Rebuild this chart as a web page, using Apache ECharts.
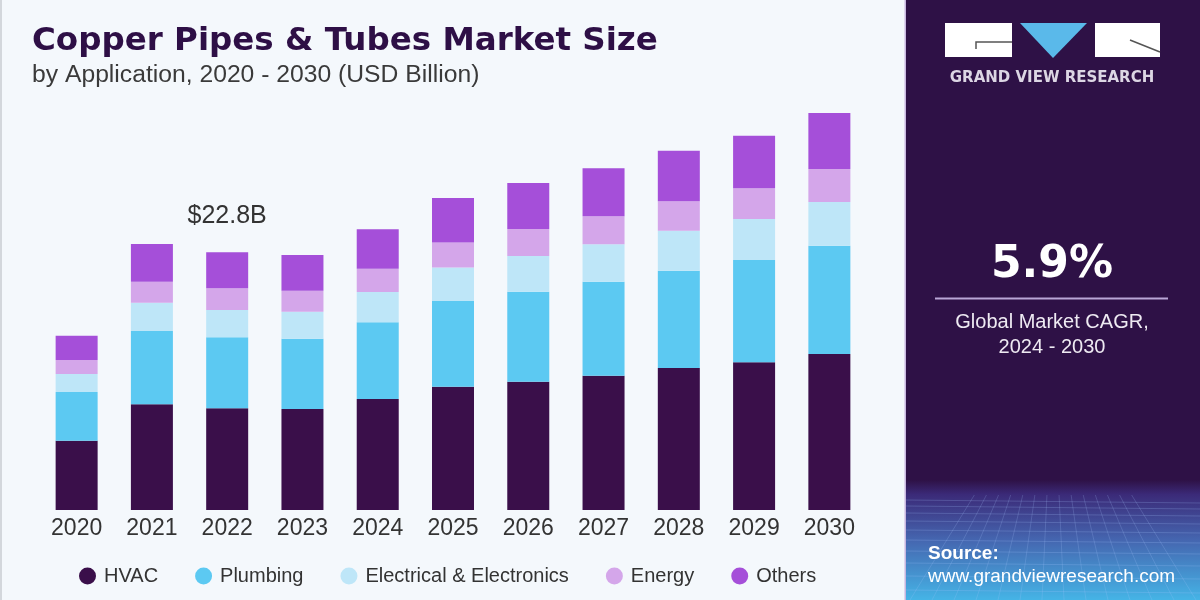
<!DOCTYPE html>
<html>
<head>
<meta charset="utf-8">
<script src="https://cdn.jsdelivr.net/npm/echarts@6/dist/echarts.min.js"></script>
<style>
  html, body { margin: 0; padding: 0; background: #f4f8fc; }
  #chart { width: 1200px; height: 600px; }
</style>
</head>
<body>
<div id="chart"></div>
<script>
const years = ['2020', '2021', '2022', '2023', '2024', '2025', '2026', '2027', '2028', '2029', '2030'];
const hvac = [6.13, 9.35, 9.00, 8.94, 9.82, 10.91, 11.35, 11.88, 12.57, 13.07, 13.81];
const plumbing = [4.31, 6.49, 6.28, 6.22, 6.79, 7.58, 7.96, 8.32, 8.61, 9.05, 9.58];
const electrical = [1.59, 2.50, 2.42, 2.39, 2.68, 2.98, 3.16, 3.31, 3.54, 3.63, 3.87];
const energy = [1.24, 1.86, 1.92, 1.86, 2.06, 2.21, 2.39, 2.48, 2.60, 2.72, 2.92];
const others = [2.15, 3.34, 3.19, 3.16, 3.49, 3.92, 4.07, 4.25, 4.48, 4.65, 4.96];
const seriesNames = ['HVAC', 'Plumbing', 'Electrical & Electronics', 'Energy', 'Others'];
const colors = ['#3a0f4a', '#5cc9f2', '#bee6f8', '#d4a6ea', '#a54fd9'];
const labelIndex = 2; // 2022 total shown

const chart = echarts.init(document.getElementById('chart'));

const allData = [hvac, plumbing, electrical, energy, others];
const total = (i) => allData.reduce((s, arr) => s + arr[i], 0);

const series = allData.map((arr, k) => ({
  name: seriesNames[k],
  type: 'bar',
  stack: 'total',
  barWidth: 42,
  itemStyle: { color: colors[k] },
  data: arr.map((v, i) => {
    if (k === allData.length - 1 && i === labelIndex) {
      return {
        value: v,
        label: {
          show: true,
          position: 'top',
          distance: 24,
          formatter: () => '$' + total(i).toFixed(1) + 'B',
          fontFamily: 'Liberation Sans, Arial, sans-serif',
          fontSize: 25,
          color: '#333'
        }
      };
    }
    return v;
  })
}));

// faint perspective grid in the source box (kept inside the panel)
const gridLines = [];
const boxTop = 495, boxBottom = 600, boxLeft = 906, boxRight = 1200;
[500, 506, 513, 521, 530, 540, 551, 563, 576, 590].forEach((y) => {
  gridLines.push({
    type: 'line', silent: true,
    shape: { x1: boxLeft, y1: y, x2: boxRight, y2: y + 3 },
    style: { stroke: 'rgba(170,200,255,0.22)', lineWidth: 1 }
  });
});
for (let x = boxLeft + 4; x <= boxRight; x += 22) {
  gridLines.push({
    type: 'line', silent: true,
    shape: { x1: 1053 + (x - 1053) * 0.55, y1: boxTop, x2: x, y2: boxBottom },
    style: { stroke: 'rgba(170,200,255,0.2)', lineWidth: 1 }
  });
}

const option = {
  backgroundColor: '#f4f8fc',
  animation: false,
  grid: { left: 39, width: 828, top: 58, bottom: 90 },
  xAxis: {
    type: 'category',
    data: years,
    axisLine: { show: false },
    axisTick: { show: false },
    axisLabel: {
      margin: 7,
      fontFamily: 'Liberation Sans, Arial, sans-serif',
      fontSize: 23,
      color: '#333'
    }
  },
  yAxis: {
    type: 'value',
    min: 0,
    max: 40,
    show: false,
    splitLine: { show: false }
  },
  legend: {
    left: 74,
    top: 561,
    icon: 'circle',
    itemWidth: 17,
    itemHeight: 17,
    itemGap: 37,
    textStyle: {
      fontFamily: 'Liberation Sans, Arial, sans-serif',
      fontSize: 20,
      color: '#333',
      padding: [0, 0, 0, 3]
    },
    data: seriesNames
  },
  graphic: [
    { type: 'rect', z: -10, shape: { x: 0, y: 0, width: 2, height: 600 }, style: { fill: '#d3d7dc' } },
    {
      type: 'text', left: 32, top: 25,
      style: { text: 'Copper Pipes & Tubes Market Size', font: 'bold 32.5px "DejaVu Sans"', fill: '#2e0f46' }
    },
    {
      type: 'text', left: 32, top: 63,
      style: { text: 'by Application, 2020 - 2030 (USD Billion)', font: '24.7px "Liberation Sans"', fill: '#3a3a3a' }
    },
    // right panel
    { type: 'rect', shape: { x: 906, y: 0, width: 294, height: 600 }, style: { fill: '#2e1146' } },
    { type: 'rect', shape: { x: 904.5, y: 0, width: 1.5, height: 600 }, style: { fill: '#c7b6df' } },
    {
      type: 'rect', shape: { x: 906, y: 480, width: 294, height: 120 },
      style: {
        fill: new echarts.graphic.LinearGradient(0, 0, 0, 1, [
          { offset: 0, color: '#2e1146' },
          { offset: 0.12, color: '#3b2a78' },
          { offset: 0.5, color: '#4566b0' },
          { offset: 1, color: '#45b4e6' }
        ])
      }
    },
    ...gridLines,
    // logo
    { type: 'rect', shape: { x: 945, y: 23, width: 67, height: 34 }, style: { fill: '#ffffff' } },
    { type: 'rect', shape: { x: 1095, y: 23, width: 65, height: 34 }, style: { fill: '#ffffff' } },
    { type: 'polygon', shape: { points: [[1020, 23], [1087, 23], [1053, 58]] }, style: { fill: '#5ab9ea' } },
    { type: 'polyline', shape: { points: [[976, 49], [976, 42], [1012, 42]] }, style: { stroke: '#555', lineWidth: 1.5, fill: null } },
    { type: 'line', shape: { x1: 1130, y1: 40, x2: 1160, y2: 52 }, style: { stroke: '#555', lineWidth: 1.5 } },
    {
      type: 'text', x: 1052, y: 78,
      style: { text: 'GRAND VIEW RESEARCH', font: 'bold 15px "DejaVu Sans"', fill: '#dcd6e4', align: 'center', verticalAlign: 'middle' }
    },
    {
      type: 'text', x: 1052, y: 266,
      style: { text: '5.9%', font: 'bold 44px "DejaVu Sans"', fill: '#ffffff', align: 'center', verticalAlign: 'middle' }
    },
    { type: 'rect', shape: { x: 935, y: 297.5, width: 233, height: 2 }, style: { fill: '#b9a6d6' } },
    {
      type: 'text', x: 1052, y: 322,
      style: { text: 'Global Market CAGR,', font: '20px "Liberation Sans"', fill: '#eeeaf2', align: 'center', verticalAlign: 'middle' }
    },
    {
      type: 'text', x: 1052, y: 347,
      style: { text: '2024 - 2030', font: '20px "Liberation Sans"', fill: '#eeeaf2', align: 'center', verticalAlign: 'middle' }
    },
    {
      type: 'text', x: 928, y: 554,
      style: { text: 'Source:', font: 'bold 19px "Liberation Sans"', fill: '#ffffff', verticalAlign: 'middle' }
    },
    {
      type: 'text', x: 928, y: 577,
      style: { text: 'www.grandviewresearch.com', font: '19px "Liberation Sans"', fill: '#ffffff', verticalAlign: 'middle' }
    }
  ],
  series: series
};

chart.setOption(option);
</script>
</body>
</html>
